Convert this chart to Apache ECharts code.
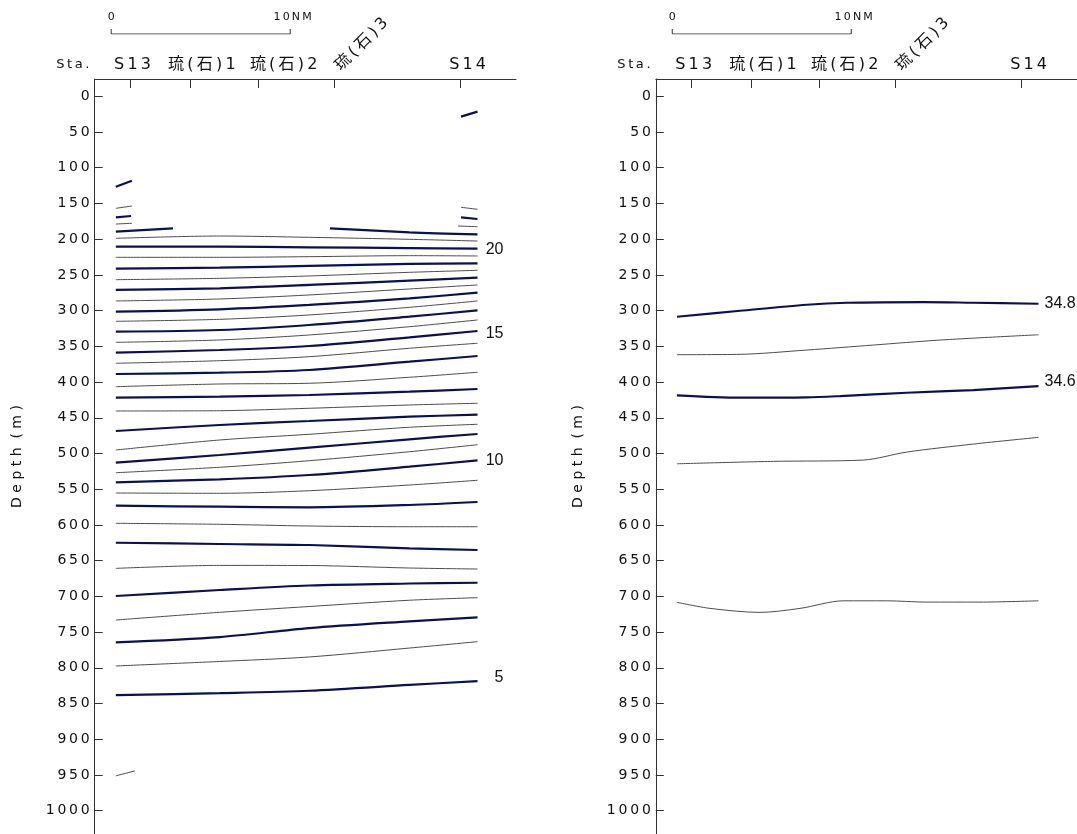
<!DOCTYPE html>
<html><head><meta charset="utf-8">
<script src="https://cdn.jsdelivr.net/npm/echarts@6/dist/echarts.min.js"></script>
<style>html,body{margin:0;padding:0;background:#fff}#c{width:1077px;height:834px}</style>
</head><body><div id="c"></div>
<script>
// ================= DATA =================
const stationNames = ['S13', '琉(石)1', '琉(石)2', '琉(石)3', 'S14'];
const stationNM = [0, 3.35, 7.16, 11.42, 18.41];           // distance along section (NM)
const depthTicks = [0,50,100,150,200,250,300,350,400,450,500,550,600,650,700,750,800,850,900,950,1000];
const scaleBarNM = [-1.06, 8.94];                            // 10 NM scale bar
const scaleLabels = ['0', '10NM'];

// Temperature section (left): depth (m) of each isotherm at these distances (NM)
const tempX = [-0.8, 5.0, 10.0, 15.6, 19.4];
const t20_5 = [198.8, 195.6, 197.4, 200.2, 202.6];
const t20   = [210.5, 210.5, 211.4, 212.4, 213.3];
const t19_5 = [225.4, 225.4, 224.5, 223.1, 223.5];
const t19   = [241.3, 239.9, 237.5, 234.7, 233.8];
const t18_5 = [256.7, 254.8, 251.5, 246.4, 243.6];
const t18   = [271.1, 268.8, 264.1, 258.1, 253.9];
const t17_5 = [286.5, 283.7, 278.1, 269.7, 264.1];
const t17   = [301.5, 298.2, 292.1, 282.8, 274.9];
const t16_5 = [315.0, 312.2, 306.1, 295.4, 286.5];
const t16   = [329.5, 327.1, 320.1, 308.5, 299.6];
const t15_5 = [344.4, 341.1, 334.1, 322.5, 313.1];
const t15   = [358.9, 355.1, 349.5, 337.4, 328.5];
const t14_5 = [373.7, 370.1, 364.5, 352.7, 345.7];
const t14   = [388.7, 386.9, 383.1, 371.5, 363.5];
const t13_5 = [406.5, 402.7, 401.7, 393.3, 386.3];
const t13   = [421.9, 420.5, 418.1, 413.5, 409.7];
const t12_5 = [440.5, 440.1, 436.7, 432.1, 429.7];
const t12   = [468.5, 460.1, 454.5, 448.5, 445.7];
const t11_5 = [495.1, 481.1, 473.1, 463.3, 459.1];
const t11   = [512.9, 502.1, 491.9, 480.1, 472.7];
const t10_5 = [526.9, 519.3, 510.1, 497.5, 487.7];
const t10   = [540.3, 536.1, 530.1, 518.5, 509.5];
const t9_5  = [555.3, 555.7, 552.1, 544.1, 537.5];
const t9    = [573.1, 574.5, 575.3, 572.1, 567.9];
const t8_5  = [597.7, 599.1, 601.5, 602.5, 602.5];
const t8    = [624.9, 626.7, 628.1, 632.7, 635.1];
const t7_5  = [660.8, 656.6, 656.8, 660.3, 661.7];
const t7    = [699.5, 691.1, 684.8, 682.0, 680.9];
const t6_5  = [733.1, 722.3, 714.2, 705.4, 701.8];
const t6    = [764.3, 756.9, 744.3, 734.9, 729.3];
const t5_5  = [797.4, 791.1, 784.8, 772.3, 763.4];
const t5    = [838.3, 835.5, 832.1, 824.0, 818.5];

// Broken isotherm pieces near the stations: [distance NM, depth m]
const t21Left   = [[-0.8, 189.5], [2.39, 184.8]];
const t21Right  = [[11.16, 184.8], [15.6, 190.4], [19.4, 193.2]];
const t21_5W    = [[-0.8, 178.8], [0.1, 177.8]];
const t22W      = [[-0.8, 169.4], [0.05, 167.6]];
const t22_5W    = [[-0.8, 156.8], [0.1, 153.6]];
const t23W      = [[-0.8, 126.5], [0.1, 118.1]];
const t21_5E    = [[18.31, 181.6], [19.4, 182.5]];
const t22E      = [[18.48, 169.4], [19.4, 171.8]];
const t22_5E    = [[18.48, 155.4], [19.4, 158.2]];
const t24E      = [[18.48, 28.5], [19.4, 21.5]];
const t4_5W     = [[-0.8, 951.2], [0.27, 944.2]];

// Salinity section (right): [distance NM, depth m]
const s34_8 = [[-0.8,308.6],[2.73,300.2],[6.45,291.8],[8.69,289.0],[12.97,288.0],[15.76,289.0],[19.4,290.4]];
const s34_7 = [[-0.8,361.7],[2.73,361.2],[6.45,355.2],[10.17,348.2],[13.9,341.2],[19.4,333.8]];
const s34_6 = [[-0.8,418.6],[2.73,421.9],[6.45,421.4],[8.32,419.6],[12.04,415.0],[15.76,411.2],[19.4,405.6]];
const s34_5 = [[-0.8,514.4],[4.59,511.0],[9.61,509.2],[12.04,498.0],[15.76,486.8],[19.4,477.4]];
const s34_5deep = [[-0.8,708.3],[1.05,716.8],[3.84,722.4],[6.08,716.8],[8.49,706.2],[10.92,706.2],[13.16,708.0],[16.13,708.0],[19.4,706.2]];

// ================= CHART =================
const BOLD = '#0b1150', THIN = '#4d4d4d', AX = '#333';
const LATIN = '"DejaVu Sans","Noto Sans CJK JP",sans-serif';
const NUMF = '"Liberation Sans",Arial,sans-serif';
const sp = s => Array.from(s).join('\u2009');
const X_MIN = -1.98, X_MAX = 21.55, D_MIN = -24.2, D_MAX = 1032.6;
const GL = [94.7, 655.8], GW = 421.3;

const zip = (xs, ys) => xs.map((x, i) => [x, ys[i]]);
const tempLines = [
  [t20_5,0],[t20,1,'20',1],[t19_5,0],[t19,1],[t18_5,0],[t18,1],[t17_5,0],[t17,1],[t16_5,0],[t16,1],
  [t15_5,0],[t15,1,'15',2.5],[t14_5,0],[t14,1],[t13_5,0],[t13,1],[t12_5,0],[t12,1],[t11_5,0],[t11,1],
  [t10_5,0],[t10,1,'10',0],[t9_5,0],[t9,1],[t8_5,0],[t8,1],[t7_5,0],[t7,1],[t6_5,0],[t6,1],[t5_5,0],[t5,1,'5',-3]
];
const tempPieces = [[t21Left,1],[t21Right,1],[t21_5W,0],[t22W,1],[t22_5W,0],[t23W,1],[t21_5E,0],[t22E,1],[t22_5E,0],[t24E,1],[t4_5W,0]];
const salLines = [[s34_8,1,'34.8',0],[s34_7,0],[s34_6,1,'34.6',-4],[s34_5,0],[s34_5deep,0]];

function mk(panel, pts, bold, label, dy, rightAlign) {
  const s = {
    type: 'line', xAxisIndex: panel, yAxisIndex: panel, data: pts,
    showSymbol: false, symbol: 'none', smooth: 0.3, silent: true, animation: false,
    lineStyle: { color: bold ? BOLD : THIN, width: bold ? 2.2 : 1 }
  };
  if (label) {
    s.endLabel = rightAlign ? {
      show: true, distance: 0, offset: [0, dy || 0],
      formatter: '{v|' + label + '}',
      rich: { v: { width: 26, align: 'right', fontFamily: NUMF, fontSize: 16, color: '#111' } }
    } : {
      show: true, distance: 6, offset: [0, dy || 0], formatter: label,
      fontFamily: NUMF, fontSize: 16, color: '#111'
    };
  }
  return s;
}

const series = [];
tempLines.forEach(l => series.push(mk(0, zip(tempX, l[0]), l[1], l[2], l[3], true)));
tempPieces.forEach(l => series.push(mk(0, l[0], l[1])));
salLines.forEach(l => series.push(mk(1, l[0], l[1], l[2], l[3], false)));
[2, 3].forEach(g => series.push({
  type: 'line', xAxisIndex: g, yAxisIndex: g, showSymbol: false, symbol: 'none', silent: true, animation: false,
  data: [[scaleBarNM[0], 1], [scaleBarNM[0], 0], [scaleBarNM[1], 0], [scaleBarNM[1], 1]],
  lineStyle: { color: AX, width: 1 }
}));

const grids = [], xAxes = [], yAxes = [];
[0, 1].forEach(p => {
  grids.push({ left: GL[p], top: 79, width: GW, height: 755 });
  xAxes.push({
    type: 'value', gridIndex: p, position: 'top', min: X_MIN, max: X_MAX,
    axisLine: { show: true, onZero: false, lineStyle: { color: AX, width: 1 } },
    axisTick: { show: true, inside: true, length: 9, customValues: stationNM, lineStyle: { color: AX } },
    axisLabel: { show: false }, splitLine: { show: false }
  });
  yAxes.push({
    type: 'value', gridIndex: p, inverse: true, min: D_MIN, max: D_MAX,
    name: 'D e p t h  ( m )', nameLocation: 'middle', nameGap: 70,
    nameTextStyle: { fontFamily: LATIN, fontSize: 14, color: '#111' },
    axisLine: { show: true, onZero: false, lineStyle: { color: AX, width: 1 } },
    axisTick: { show: true, inside: true, length: 8, customValues: depthTicks, lineStyle: { color: AX } },
    axisLabel: { show: true, customValues: depthTicks, margin: 5, fontFamily: LATIN, fontSize: 14, color: '#111',
      formatter: v => sp(String(v)) },
    splitLine: { show: false }
  });
});
[0, 1].forEach(p => {
  grids.push({ left: GL[p], top: 29, width: GW, height: 5 });
  xAxes.push({ type: 'value', gridIndex: 2 + p, min: X_MIN, max: X_MAX, show: false });
  yAxes.push({ type: 'value', gridIndex: 2 + p, min: 0, max: 1, show: false });
});

const chart = echarts.init(document.getElementById('c'), null, { renderer: 'canvas' });
chart.setOption({ animation: false, backgroundColor: '#fff', grid: grids, xAxis: xAxes, yAxis: yAxes, series });

// station & header texts placed through the axis scale
const dx = [2.4, 11.7, 25.3, 8.9, 7.8];
const graphic = [];
const txt = (x, y, t, size, extra) => ({
  type: 'text', x, y, silent: true,
  style: Object.assign({ text: t, fill: '#111', font: size + 'px ' + LATIN, align: 'center', verticalAlign: 'middle' }, extra || {})
});
[0, 1].forEach(p => {
  const px = v => chart.convertToPixel({ xAxisIndex: p }, v);
  graphic.push(txt(px(X_MIN) - 21.9, 64.5, sp('Sta.'), 13));
  stationNames.forEach((n, i) => {
    if (i === 3) {
      const g = txt(px(stationNM[i]) + dx[i], 74, sp(n), 16, { align: 'left', verticalAlign: 'bottom' });
      g.rotation = Math.PI / 4;
      graphic.push(g);
    } else {
      graphic.push(txt(px(stationNM[i]) + dx[i], 64.5, sp(n), 16));
    }
  });
  graphic.push(txt(px(scaleBarNM[0]), 17, sp(scaleLabels[0]), 11));
  graphic.push(txt(px(scaleBarNM[1]) + 2.4, 17, sp(scaleLabels[1]), 11));
});
chart.setOption({ graphic });
</script></body></html>
